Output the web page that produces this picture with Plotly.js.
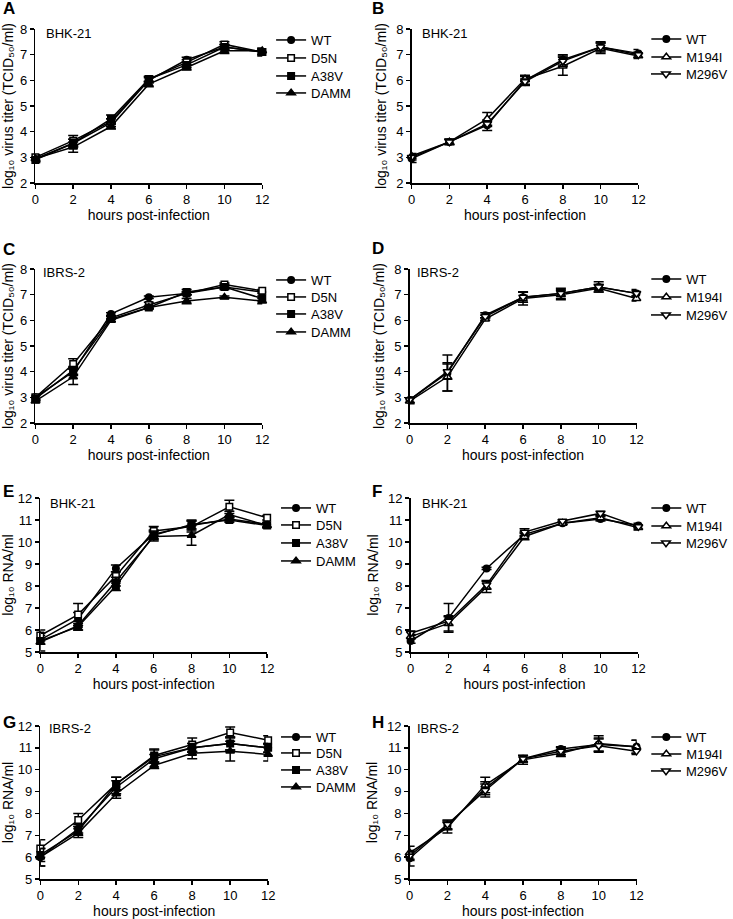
<!DOCTYPE html>
<html><head><meta charset="utf-8">
<script src="https://cdn.plot.ly/plotly-3.0.1.min.js"></script>
<style>html,body{margin:0;padding:0;background:#fff}#c{width:733px;height:919px}</style>
</head><body><div id="c"></div>
<script>
// ---------- DATA ----------
const hours = [0, 2, 4, 6, 8, 10, 12];
const seriesLeft = ["WT", "D5N", "A38V", "DAMM"];
const seriesRight = ["WT", "M194I", "M296V"];
const cellLines = ["BHK-21", "BHK-21", "IBRS-2", "IBRS-2", "BHK-21", "BHK-21", "IBRS-2", "IBRS-2"];
const panelLetters = ["A", "B", "C", "D", "E", "F", "G", "H"];
const titerTitle = "log\u2081\u2080 virus titer (TCID\u2085\u2080/ml)";
const rnaTitle = "log\u2081\u2080 RNA/ml";
const xTitle = "hours post-infection";

// Panel A: BHK-21 virus titer
const A_WT   = [2.95, 3.55, 4.35, 6.0, 6.8, 7.3, 7.1];
const A_D5N  = [3.0, 3.65, 4.4, 6.05, 6.7, 7.4, 7.1];
const A_A38V = [2.9, 3.55, 4.5, 6.05, 6.6, 7.3, 7.1];
const A_DAMM = [2.95, 3.4, 4.2, 5.85, 6.5, 7.15, 7.15];
const A_WT_err   = [0.1, 0.15, 0.15, 0.1, 0.1, 0.1, 0.1];
const A_D5N_err  = [0.1, 0.2, 0.1, 0.1, 0.1, 0.1, 0.1];
const A_A38V_err = [0.1, 0.15, 0.15, 0.1, 0.1, 0.1, 0.15];
const A_DAMM_err = [0.1, 0.2, 0.1, 0.1, 0.1, 0.1, 0.1];

// Panel B: BHK-21 virus titer
const B_WT    = [2.95, 3.6, 4.25, 6.0, 6.8, 7.3, 7.05];
const B_M194I = [3.05, 3.6, 4.5, 6.05, 6.55, 7.25, 6.95];
const B_M296V = [3.0, 3.6, 4.3, 5.95, 6.75, 7.3, 7.0];
const B_WT_err    = [0.15, 0.1, 0.2, 0.2, 0.2, 0.2, 0.15];
const B_M194I_err = [0.1, 0.1, 0.25, 0.1, 0.35, 0.2, 0.1];
const B_M296V_err = [0.1, 0.1, 0.1, 0.1, 0.2, 0.15, 0.1];

// Panel C: IBRS-2 virus titer
const C_WT   = [3.0, 4.0, 6.25, 6.9, 7.05, 7.3, 7.1];
const C_D5N  = [3.0, 4.3, 6.1, 6.6, 7.05, 7.4, 7.15];
const C_A38V = [2.95, 4.05, 6.05, 6.5, 7.1, 7.3, 6.85];
const C_DAMM = [2.85, 3.8, 6.0, 6.5, 6.75, 6.9, 6.75];
const C_WT_err   = [0.1, 0.15, 0.05, 0.05, 0.05, 0.05, 0.05];
const C_D5N_err  = [0.1, 0.2, 0.05, 0.1, 0.05, 0.05, 0.05];
const C_A38V_err = [0.1, 0.15, 0.1, 0.05, 0.1, 0.1, 0.1];
const C_DAMM_err = [0.05, 0.3, 0.05, 0.05, 0.1, 0.05, 0.1];

// Panel D: IBRS-2 virus titer
const D_WT    = [2.9, 3.95, 6.2, 6.9, 7.05, 7.3, 7.05];
const D_M194I = [2.85, 3.8, 6.05, 6.85, 7.0, 7.25, 6.85];
const D_M296V = [2.9, 4.0, 6.15, 6.9, 7.05, 7.3, 7.05];
const D_WT_err    = [0.1, 0.7, 0.1, 0.2, 0.2, 0.2, 0.15];
const D_M194I_err = [0.1, 0.55, 0.05, 0.25, 0.2, 0.15, 0.1];
const D_M296V_err = [0.1, 0.3, 0.05, 0.2, 0.1, 0.1, 0.1];

// Panel E: BHK-21 RNA
const E_WT   = [5.55, 6.5, 8.8, 10.35, 10.75, 11.05, 10.8];
const E_D5N  = [5.75, 6.7, 8.45, 10.5, 10.7, 11.6, 11.1];
const E_A38V = [5.5, 6.15, 8.0, 10.3, 10.8, 11.0, 10.75];
const E_DAMM = [5.45, 6.2, 8.2, 10.25, 10.3, 11.25, 10.75];
const E_WT_err   = [0.2, 0.3, 0.15, 0.2, 0.2, 0.1, 0.1];
const E_D5N_err  = [0.25, 0.5, 0.2, 0.2, 0.25, 0.3, 0.1];
const E_A38V_err = [0.15, 0.15, 0.2, 0.2, 0.2, 0.1, 0.1];
const E_DAMM_err = [0.4, 0.2, 0.2, 0.2, 0.45, 0.15, 0.1];

// Panel F: BHK-21 RNA
const F_WT    = [5.5, 6.55, 8.8, 10.35, 10.85, 11.05, 10.75];
const F_M194I = [5.7, 6.3, 7.95, 10.25, 10.85, 11.1, 10.65];
const F_M296V = [5.85, 6.4, 8.05, 10.45, 10.95, 11.3, 10.7];
const F_WT_err    = [0.1, 0.65, 0.05, 0.1, 0.05, 0.1, 0.1];
const F_M194I_err = [0.1, 0.35, 0.25, 0.15, 0.05, 0.1, 0.1];
const F_M296V_err = [0.1, 0.2, 0.2, 0.15, 0.05, 0.1, 0.05];

// Panel G: IBRS-2 RNA
const G_WT   = [6.0, 7.3, 9.2, 10.5, 11.0, 11.2, 11.0];
const G_D5N  = [6.4, 7.7, 9.35, 10.65, 11.15, 11.7, 11.35];
const G_A38V = [6.1, 7.2, 9.35, 10.6, 11.0, 11.2, 11.0];
const G_DAMM = [6.0, 7.1, 8.9, 10.2, 10.75, 10.85, 10.7];
const G_WT_err   = [0.4, 0.2, 0.3, 0.2, 0.2, 0.3, 0.2];
const G_D5N_err  = [0.4, 0.3, 0.3, 0.3, 0.3, 0.25, 0.2];
const G_A38V_err = [0.3, 0.2, 0.3, 0.3, 0.2, 0.3, 0.2];
const G_DAMM_err = [0.4, 0.2, 0.2, 0.15, 0.25, 0.45, 0.3];

// Panel H: IBRS-2 RNA
const H_WT    = [5.95, 7.45, 9.15, 10.5, 10.95, 11.15, 11.05];
const H_M194I = [6.2, 7.35, 9.3, 10.45, 10.75, 11.2, 11.05];
const H_M296V = [6.05, 7.5, 9.05, 10.5, 10.85, 11.1, 10.85];
const H_WT_err    = [0.35, 0.2, 0.3, 0.15, 0.1, 0.3, 0.3];
const H_M194I_err = [0.3, 0.25, 0.35, 0.2, 0.15, 0.35, 0.3];
const H_M296V_err = [0.2, 0.2, 0.3, 0.15, 0.15, 0.3, 0.15];

// ---------- STYLE / LAYOUT ----------
const W = 733, Hh = 919;
const FONT = "Liberation Sans, Arial, sans-serif";
const symbolStyle = {
  "WT":    {symbol: "circle", size: 6.5, fill: "black"},
  "D5N":   {symbol: "square", size: 6.5, fill: "white"},
  "A38V":  {symbol: "square", size: 6.5, fill: "black"},
  "DAMM":  {symbol: "triangle-up", size: 7.5, fill: "black"},
  "M194I": {symbol: "triangle-up", size: 7.5, fill: "white"},
  "M296V": {symbol: "triangle-down", size: 7.5, fill: "white"}
};

// pixel boxes [left, right, top, bottom]
const boxes = [
  [36, 267, 29, 183], [419, 650, 29, 183],
  [36, 267, 269, 423], [417, 648, 269, 423],
  [41, 272, 498, 652], [418, 650, 498, 652],
  [41, 273, 726, 879], [417, 648, 726, 879]
];
// legend text left edge and row centres (pixels)
const legTextX = [307, 689, 307, 689, 312, 689, 312, 689];
const legRows = [
  [40, 58, 76, 93], [39, 57, 74],
  [280, 297, 314, 332], [279, 297, 315],
  [508, 525, 543, 561], [508, 526, 543],
  [737, 753, 770, 787], [737, 754, 771]
];
const panels = [
  {series: seriesLeft, vals: [A_WT, A_D5N, A_A38V, A_DAMM], errs: [A_WT_err, A_D5N_err, A_A38V_err, A_DAMM_err], yr: [2, 8], kind: "titer"},
  {series: seriesRight, vals: [B_WT, B_M194I, B_M296V], errs: [B_WT_err, B_M194I_err, B_M296V_err], yr: [2, 8], kind: "titer"},
  {series: seriesLeft, vals: [C_WT, C_D5N, C_A38V, C_DAMM], errs: [C_WT_err, C_D5N_err, C_A38V_err, C_DAMM_err], yr: [2, 8], kind: "titer"},
  {series: seriesRight, vals: [D_WT, D_M194I, D_M296V], errs: [D_WT_err, D_M194I_err, D_M296V_err], yr: [2, 8], kind: "titer"},
  {series: seriesLeft, vals: [E_WT, E_D5N, E_A38V, E_DAMM], errs: [E_WT_err, E_D5N_err, E_A38V_err, E_DAMM_err], yr: [5, 12], kind: "rna"},
  {series: seriesRight, vals: [F_WT, F_M194I, F_M296V], errs: [F_WT_err, F_M194I_err, F_M296V_err], yr: [5, 12], kind: "rna"},
  {series: seriesLeft, vals: [G_WT, G_D5N, G_A38V, G_DAMM], errs: [G_WT_err, G_D5N_err, G_A38V_err, G_DAMM_err], yr: [5, 12], kind: "rna"},
  {series: seriesRight, vals: [H_WT, H_M194I, H_M296V], errs: [H_WT_err, H_M194I_err, H_M296V_err], yr: [5, 12], kind: "rna"}
];

const traces = [];
const layout = {
  width: W, height: Hh,
  margin: {l: 0, r: 0, t: 0, b: 0},
  paper_bgcolor: "white", plot_bgcolor: "white",
  font: {family: FONT, size: 13, color: "black"},
  annotations: [],
  showlegend: true
};

const px = x => x / W;
const py = y => 1 - y / Hh;
let legendCount = 0;

panels.forEach((p, i) => {
  const n = i + 1;
  const xa = n === 1 ? "xaxis" : "xaxis" + n;
  const ya = n === 1 ? "yaxis" : "yaxis" + n;
  const xr = n === 1 ? "x" : "x" + n;
  const yr = n === 1 ? "y" : "y" + n;
  const b = boxes[i];
  const axCommon = {
    showline: true, linecolor: "black", linewidth: 1.5,
    ticks: "outside", ticklen: 4, tickwidth: 1.5, tickcolor: "black",
    showgrid: false, zeroline: false, fixedrange: true,
    tickfont: {family: FONT, size: 13, color: "black"}
  };
  layout[xa] = Object.assign({}, axCommon, {
    domain: [px(b[0]), px(b[1])], anchor: yr, range: [0, 12], dtick: 2, tick0: 0,
    title: {text: xTitle, font: {family: FONT, size: 14, color: "black"}, standoff: 0}
  });
  layout[ya] = Object.assign({}, axCommon, {
    domain: [py(b[3]), py(b[2])], anchor: xr, range: p.yr, dtick: 1,
    title: {text: p.kind === "titer" ? titerTitle : rnaTitle, font: {family: FONT, size: 14, color: "black"}, standoff: 6}
  });
  p.series.forEach((s, k) => {
    legendCount += 1;
    const lg = legendCount === 1 ? "legend" : "legend" + legendCount;
    layout[lg] = {
      x: px(legTextX[i] - 31), xanchor: "left",
      y: py(legRows[i][k]), yanchor: "middle",
      bgcolor: "rgba(0,0,0,0)", borderwidth: 0,
      font: {family: FONT, size: 13, color: "black"},
      itemwidth: 30
    };
    const st = symbolStyle[s];
    traces.push({
      type: "scatter", mode: "lines+markers", name: s,
      x: hours, y: p.vals[k],
      xaxis: xr, yaxis: yr, legend: lg,
      cliponaxis: false,
      line: {color: "black", width: 1.5},
      marker: {symbol: st.symbol, size: st.size, color: st.fill, line: {color: "black", width: 1.5}},
      error_y: {type: "data", array: p.errs[k], visible: true, color: "black", thickness: 1.5, width: 5}
    });
  });
  // panel letter
  const letterX = (i % 2 === 0) ? 1 : 377;
  const letterY = [8, 8, 250, 249, 492, 492, 722, 722][i];
  layout.annotations.push({
    xref: "paper", yref: "paper", x: px(letterX), y: py(letterY),
    xanchor: "left", yanchor: "middle", showarrow: false,
    text: "<b>" + panelLetters[i] + "</b>", font: {family: FONT, size: 17, color: "black"}
  });
  // cell line label
  const cellX = [45, 428, 42, 422, 49, 428, 48, 423][i];
  const cellY = [33, 33, 272, 272, 503, 503, 728, 728][i];
  layout.annotations.push({
    xref: "paper", yref: "paper", x: px(cellX), y: py(cellY),
    xanchor: "left", yanchor: "middle", showarrow: false,
    text: cellLines[i], font: {family: FONT, size: 13, color: "black"}
  });
});

Plotly.newPlot("c", traces, layout, {displayModeBar: false, staticPlot: true});
</script>
</body></html>
